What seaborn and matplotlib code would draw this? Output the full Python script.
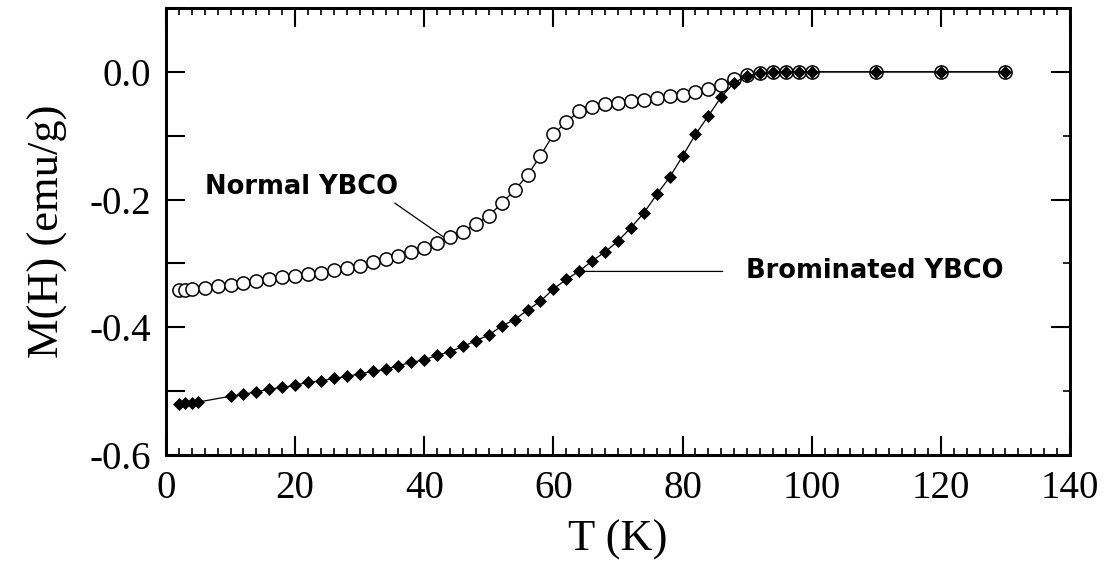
import matplotlib
matplotlib.use("Agg")
import matplotlib.pyplot as plt
import seaborn as sns
from matplotlib.ticker import MultipleLocator

# data
T_normal = [2, 3, 4, 6, 8, 10, 12, 14, 16, 18, 20, 22, 24, 26, 28, 30, 32, 34, 36, 38,
            40, 42, 44, 46, 48, 50, 52, 54, 56, 58, 60, 62, 64, 66, 68, 70, 72, 74, 76, 78,
            80, 82, 84, 86, 88, 90, 92, 94, 96, 98, 100, 110, 120, 130]
M_normal = [-0.342, -0.341, -0.340, -0.338, -0.336, -0.334, -0.331, -0.327, -0.324, -0.322,
            -0.320, -0.317, -0.315, -0.310, -0.307, -0.304, -0.298, -0.293, -0.288, -0.282,
            -0.276, -0.268, -0.258, -0.250, -0.238, -0.225, -0.206, -0.185, -0.162, -0.131,
            -0.098, -0.078, -0.062, -0.055, -0.050, -0.048, -0.045, -0.044, -0.041, -0.038,
            -0.036, -0.031, -0.027, -0.020, -0.011, -0.005, -0.002, -0.001, 0.0, 0.0,
            0.0, 0.0, 0.0, 0.0]

T_brom = [2, 3, 4, 5, 10, 12, 14, 16, 18, 20, 22, 24, 26, 28, 30, 32, 34, 36, 38, 40,
          42, 44, 46, 48, 50, 52, 54, 56, 58, 60, 62, 64, 66, 68, 70, 72, 74, 76, 78, 80,
          82, 84, 86, 88, 90, 92, 94, 96, 98, 100, 110, 120, 130]
M_brom = [-0.520, -0.519, -0.518, -0.517, -0.508, -0.505, -0.501, -0.497, -0.494, -0.491,
          -0.486, -0.484, -0.480, -0.477, -0.473, -0.469, -0.466, -0.460, -0.455, -0.451,
          -0.444, -0.438, -0.430, -0.421, -0.412, -0.398, -0.388, -0.373, -0.359, -0.340,
          -0.325, -0.312, -0.296, -0.282, -0.265, -0.244, -0.221, -0.192, -0.165, -0.132,
          -0.098, -0.069, -0.039, -0.017, -0.006, -0.002, -0.001, 0.0, 0.0, 0.0,
          0.0, 0.0, 0.0]

y_ticks = [-0.6, -0.4, -0.2, 0.0]

sns.set_style("ticks")
plt.rcParams["axes.unicode_minus"] = False
plt.rcParams["text.color"] = "black"
plt.rcParams["axes.labelcolor"] = "black"
plt.rcParams["xtick.color"] = "black"
plt.rcParams["ytick.color"] = "black"

fig = plt.figure(figsize=(11.08, 5.67), dpi=100)
ax = fig.add_axes([0.1498, 0.1975, 0.8159, 0.7884])

sns.lineplot(x=T_normal, y=M_normal, ax=ax, color="black", lw=0.9,
             marker="o", markersize=9.5, markerfacecolor="white",
             markeredgecolor="black", markeredgewidth=1.1)
sns.lineplot(x=T_brom, y=M_brom, ax=ax, color="black", lw=0.9,
             marker="D", markersize=6, markerfacecolor="black",
             markeredgecolor="black", markeredgewidth=0.5)

ax.set_xlim(0, 140)
ax.set_ylim(-0.6, 0.1)
ax.xaxis.set_major_locator(MultipleLocator(20))
ax.xaxis.set_minor_locator(MultipleLocator(2))
ax.set_yticks(y_ticks)
ax.set_yticklabels([f"{v:.1f}" for v in y_ticks])
ax.yaxis.set_minor_locator(MultipleLocator(0.1))

serif = "Liberation Serif"
for lab in ax.get_xticklabels() + ax.get_yticklabels():
    lab.set_fontfamily(serif)
    lab.set_fontsize(28)
    lab.set_color("black")

ax.tick_params(axis="x", which="major", direction="in", length=14, width=1.5,
               top=True, pad=11, colors="black")
ax.tick_params(axis="x", which="minor", direction="in", length=5, width=1.2, top=True,
               colors="black")
ax.tick_params(axis="y", which="both", direction="in", length=14, width=1.5,
               right=False, pad=11, colors="black")

# right side ticks: long majors, short minors
ax2 = ax.twinx()
ax2.set_ylim(ax.get_ylim())
ax2.set_yticks(y_ticks)
ax2.yaxis.set_minor_locator(MultipleLocator(0.1))
ax2.tick_params(axis="y", which="major", direction="in", length=14, width=1.5,
                labelright=False, colors="black")
ax2.tick_params(axis="y", which="minor", direction="in", length=5, width=1.2, colors="black")

for a in (ax, ax2):
    for sp in a.spines.values():
        sp.set_linewidth(2)
        sp.set_color("black")

ax.set_xlabel("T (K)", fontfamily=serif, fontsize=32, labelpad=9, color="black")
ax.set_ylabel("M(H) (emu/g)", fontfamily=serif, fontsize=32, color="black")
ax.yaxis.set_label_coords(-0.108, 0.5)

ax.annotate("Normal YBCO", xy=(42.9, -0.258), xytext=(6.0, -0.180),
            fontsize=18.5, fontfamily="DejaVu Sans", fontweight="bold", color="black",
            va="center", ha="left",
            arrowprops=dict(arrowstyle="-", color="black", lw=0.9,
                            shrinkA=0, shrinkB=0, relpos=(0.96, 0.0)))
ax.annotate("Brominated YBCO", xy=(64.8, -0.3125), xytext=(89.8, -0.3125),
            fontsize=18.5, fontfamily="DejaVu Sans", fontweight="bold", color="black",
            va="center", ha="left",
            arrowprops=dict(arrowstyle="-", color="black", lw=0.9,
                            shrinkA=0, shrinkB=0, relpos=(-0.09, 0.5)))

fig.savefig("out.png", dpi=100)
